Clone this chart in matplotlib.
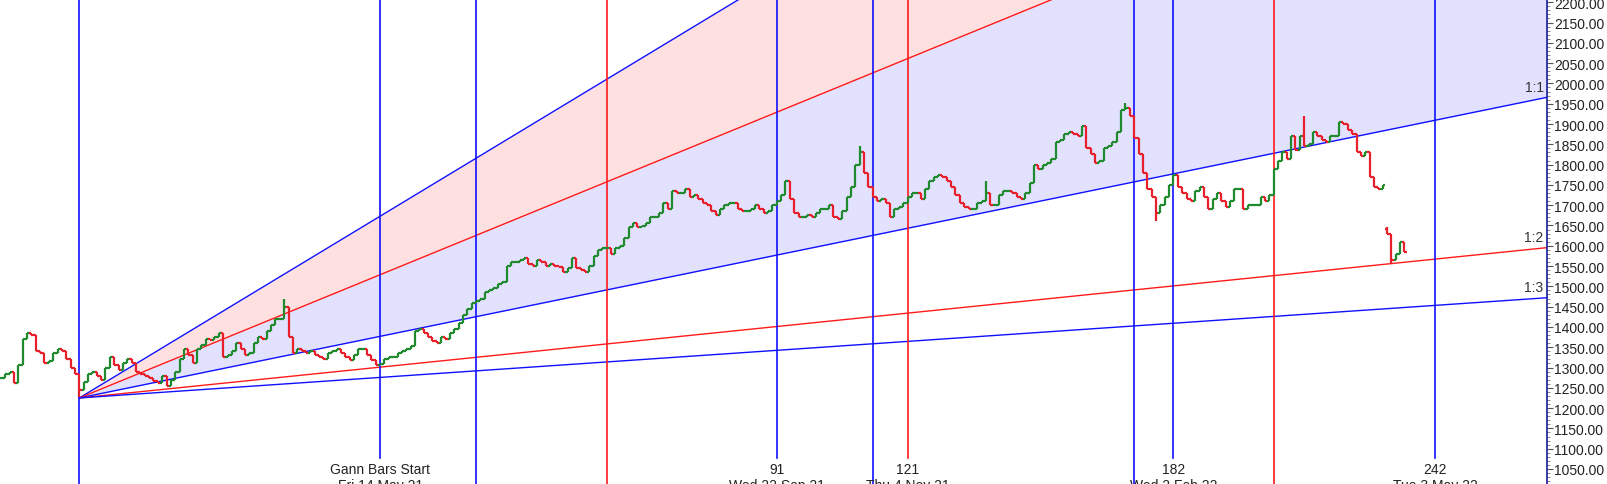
import numpy as np
import matplotlib
matplotlib.use("Agg")
import matplotlib.pyplot as plt
from matplotlib.collections import LineCollection
from matplotlib.ticker import MultipleLocator, FormatStrFormatter

plt.rcParams['font.family'] = ['Liberation Sans', 'DejaVu Sans']

# barras contadas a partir de "Gann Bars Start" (Fri 14 May 21)
primeira_barra = -87
fechamentos = [
    1275, 1285, 1290, 1262, 1305, 1370, 1385, 1380, 1340, 1335,
    1312, 1315, 1335, 1345, 1340, 1320, 1300, 1285, 1245, 1265,
    1285, 1290, 1280, 1270, 1300, 1325, 1305, 1295, 1310, 1320,
    1310, 1290, 1285, 1280, 1275, 1268, 1262, 1280, 1255, 1270,
    1290, 1320, 1345, 1330, 1310, 1345, 1355, 1370, 1368, 1375,
    1385, 1325, 1330, 1340, 1360, 1345, 1330, 1335, 1360, 1375,
    1370, 1390, 1405, 1420, 1420, 1450, 1375, 1335, 1345, 1340,
    1335, 1340, 1330, 1325, 1320, 1335, 1340, 1345, 1335, 1325,
    1318, 1330, 1345, 1345, 1330, 1318, 1305, 1308, 1320, 1325,
    1325, 1335, 1340, 1345, 1352, 1390, 1395, 1385, 1375, 1365,
    1360, 1375, 1370, 1385, 1395, 1410, 1430, 1445, 1460, 1465,
    1470, 1485, 1490, 1495, 1505, 1510, 1550, 1560, 1560, 1565,
    1570, 1555, 1550, 1565, 1560, 1550, 1555, 1550, 1548, 1535,
    1545, 1570, 1545, 1540, 1535, 1550, 1575, 1590, 1595, 1595,
    1580, 1595, 1600, 1620, 1645, 1655, 1645, 1648, 1655, 1670,
    1670, 1680, 1705, 1690, 1735, 1730, 1730, 1740, 1720, 1725,
    1715, 1705, 1700, 1685, 1675, 1690, 1700, 1705, 1705, 1690,
    1685, 1685, 1690, 1700, 1690, 1680, 1685, 1700, 1710, 1725,
    1760, 1715, 1680, 1670, 1670, 1675, 1670, 1680, 1690, 1690,
    1700, 1670, 1665, 1685, 1720, 1745, 1800, 1830, 1780, 1745,
    1720, 1710, 1715, 1705, 1670, 1690, 1695, 1705, 1720, 1730,
    1730, 1715, 1740, 1760, 1770, 1775, 1770, 1760, 1745, 1725,
    1705, 1695, 1690, 1690, 1705, 1710, 1730, 1700, 1700, 1725,
    1735, 1735, 1730, 1720, 1715, 1730, 1755, 1800, 1790, 1800,
    1805, 1815, 1855, 1860, 1875, 1880, 1875, 1870, 1895, 1840,
    1825, 1805, 1810, 1840, 1845, 1855, 1880, 1935, 1940, 1920,
    1865, 1825, 1780, 1740, 1720, 1680, 1700, 1720, 1750, 1775,
    1745, 1730, 1715, 1710, 1735, 1745, 1720, 1690, 1715, 1730,
    1710, 1695, 1710, 1740, 1740, 1690, 1700, 1700, 1700, 1720,
    1710, 1725, 1790, 1810, 1830, 1815, 1870, 1835, 1870, 1845,
    1850, 1880, 1870, 1860, 1855, 1870, 1870, 1905, 1900, 1885,
    1875, 1830, 1820, 1830, 1770, 1745, 1740, 1750, 1630, 1565,
    1580, 1610, 1585,
]
# aberturas com gap e pavios visiveis (chave = numero da barra)
aberturas_gap = {231: 1642}
maximas = {-22: 1468, 110: 1845, 139: 1760, 171: 1952, 212: 1920, 231: 1645}
minimas = {-69: 1227, 178: 1660, 232: 1555}

# leque de Gann
origem_barra = -69
origem_preco = 1225
preco_por_barra = 2.2
angulos = [(2.95, 'blue', ''), (2, 'red', ''), (1, 'blue', '1:1'),
           (1 / 2, 'red', '1:2'), (1 / 3, 'blue', '1:3')]

linhas_tempo = [(-69, 'blue'), (22, 'blue'), (52, 'red'), (113, 'blue'),
                (173, 'blue'), (205, 'red')]
contagens = [0, 91, 121, 182, 242]
rotulos_contagem = ['Gann Bars Start', '91', '121', '182', '242']
datas_contagem = ['Fri 14 May 21', 'Wed 22 Sep 21', 'Thu 4 Nov 21',
                  'Wed 2 Feb 22', 'Tue 3 May 22']
cores_contagem = ['blue', 'blue', 'red', 'blue', 'blue']

AZUL = '#1010ff'
VERMELHO = '#ff1a1a'
VERDE = '#1f8a2e'
VERM_BARRA = '#e8202c'
cor = {'blue': AZUL, 'red': VERMELHO}

fig = plt.figure(figsize=(16.08, 4.85), dpi=100)
ax = fig.add_axes([0, 0, 1547 / 1608, 1])
x_min, x_max = -87.2, 267.7
y_min, y_max = 1013, 2208
ax.set_xlim(x_min, x_max)
ax.set_ylim(y_min, y_max)

# preenchimentos do leque
xs = np.linspace(origem_barra, x_max, 400)
l3 = origem_preco + angulos[0][0] * preco_por_barra * (xs - origem_barra)
l2 = origem_preco + 2 * preco_por_barra * (xs - origem_barra)
l1 = origem_preco + 1 * preco_por_barra * (xs - origem_barra)
top = np.full_like(xs, y_max + 50)
ax.fill_between(xs, np.minimum(l2, top), np.minimum(l3, top), color='#ffe0e0', lw=0, zorder=0)
ax.fill_between(xs, np.minimum(l1, top), np.minimum(l2, top), color='#e2e2ff', lw=0, zorder=0)

for razao, c, rot in angulos:
    ys = origem_preco + razao * preco_por_barra * (xs - origem_barra)
    ax.plot(xs, ys, color=cor[c], lw=1.0, zorder=2)
    if rot:
        y_fim = origem_preco + razao * preco_por_barra * (x_max - origem_barra)
        ax.text(x_max - 0.8, y_fim + 8, rot, ha='right', va='bottom',
                fontsize=10, color='#333333', zorder=5)

for b, c in linhas_tempo:
    ax.axvline(b, color=cor[c], lw=1.2, zorder=2)

for b, rot, data, c in zip(contagens, rotulos_contagem, datas_contagem, cores_contagem):
    ax.plot([b, b], [1078, y_max], color=cor[c], lw=1.2, zorder=2)
    ax.text(b, 1050, rot, ha='center', va='center', fontsize=10, color='#222222')
    ax.text(b, 1029, data, ha='center', va='top', fontsize=10, color='#222222', clip_on=False)

# barras OHLC
segs_v, segs_r = [], []
anterior = fechamentos[0]
for i, c in enumerate(fechamentos):
    b = primeira_barra + i
    o = aberturas_gap.get(b, anterior)
    h = maximas.get(b, max(o, c))
    lo = minimas.get(b, min(o, c))
    s = [[(b, lo), (b, h)], [(b - 0.5, o), (b, o)], [(b, c), (b + 0.5, c)]]
    if c >= o:
        segs_v += s
    else:
        segs_r += s
    anterior = c
ax.add_collection(LineCollection(segs_v, colors=VERDE, linewidths=1.6, zorder=3))
ax.add_collection(LineCollection(segs_r, colors=VERM_BARRA, linewidths=1.6, zorder=3))

# eixo de precos a direita
for lado in ['top', 'left', 'bottom']:
    ax.spines[lado].set_visible(False)
ax.spines['right'].set_color('#1a1a9a')
ax.spines['right'].set_linewidth(1.2)
ax.set_xticks([])
ax.yaxis.tick_right()
ax.yaxis.set_major_locator(MultipleLocator(50))
ax.yaxis.set_minor_locator(MultipleLocator(10))
ax.yaxis.set_major_formatter(FormatStrFormatter('%.2f'))
ax.tick_params(axis='y', which='major', direction='out', length=4, width=0.8,
               color='#555555', labelsize=10, labelcolor='#222222', pad=1)
ax.tick_params(axis='y', which='minor', direction='out', length=2, width=0.6, color='#777777')

fig.savefig('out.png', dpi=100)
